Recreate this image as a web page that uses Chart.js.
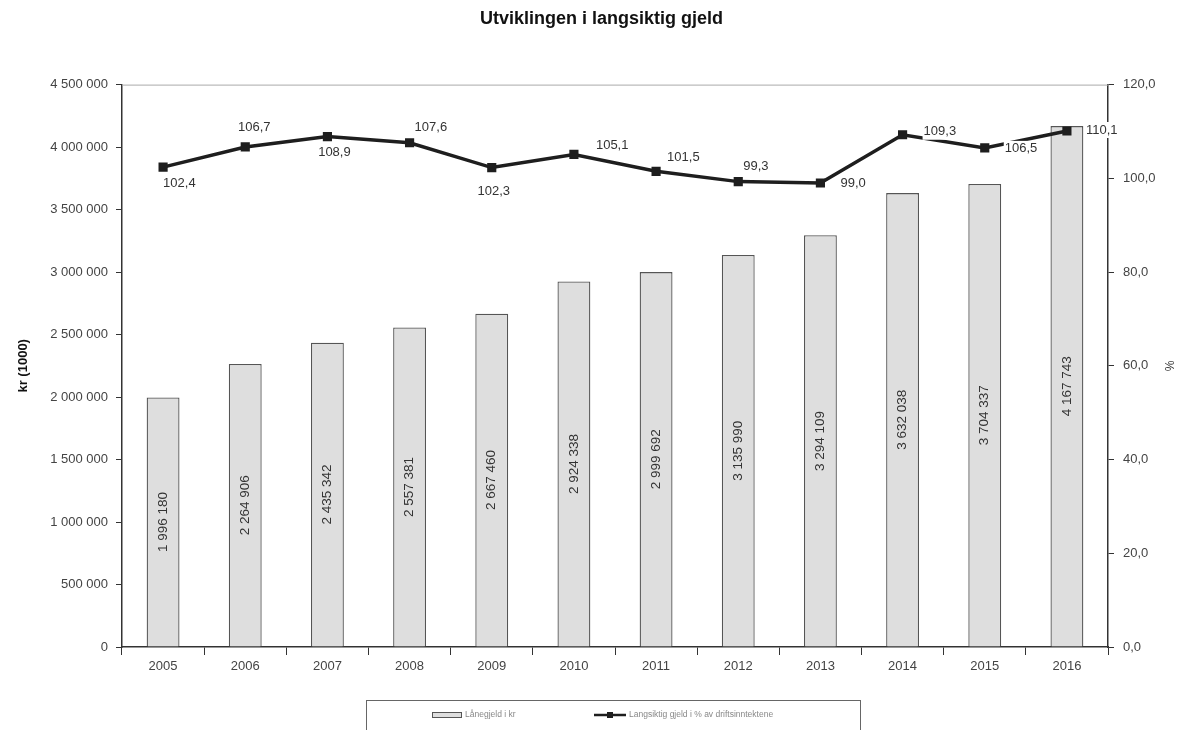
<!DOCTYPE html>
<html>
<head>
<meta charset="utf-8">
<script src="https://cdn.jsdelivr.net/npm/chart.js@4.4.1/dist/chart.umd.min.js"></script>
<style>
  html, body { margin: 0; padding: 0; background: #fff; }
  #wrap { width: 1187px; height: 730px; position: relative; }
</style>
</head>
<body>
<div id="wrap"><canvas id="chart"></canvas></div>
<script>
// data
const years = ['2005','2006','2007','2008','2009','2010','2011','2012','2013','2014','2015','2016'];
const loanDebt = [1996180, 2264906, 2435342, 2557381, 2667460, 2924338, 2999692, 3135990, 3294109, 3632038, 3704337, 4167743];
const debtPct = [102.4, 106.7, 108.9, 107.6, 102.3, 105.1, 101.5, 99.3, 99.0, 109.3, 106.5, 110.1];
const barLabel = 'Lånegjeld i kr';
const lineLabel = 'Langsiktig gjeld i % av driftsinntektene';

// where each line label sits relative to its point (dx, dy, align)
const pctLabelPos = [
  [0, 16, 'left'], [9, -20, 'center'], [7, 16, 'center'], [5, -15, 'left'],
  [2, 24, 'center'], [22, -9, 'left'], [11, -14, 'left'], [5, -15, 'left'],
  [20, 0, 'left'], [21, -3, 'left'], [20, 1, 'left'], [19, -1, 'left']
];

const FONT = "'Liberation Sans', Arial, sans-serif";
const LEFT_PAD = 16;

function spaced(n){
  return String(Math.round(n)).replace(/\B(?=(\d{3})+(?!\d))/g, ' ');
}

const labelsPlugin = {
  id: 'valueLabels',
  afterDatasetsDraw(chart){
    const ctx = chart.ctx;
    ctx.save();
    // bar values, turned on their side in the middle of the bar
    const barMeta = chart.getDatasetMeta(0);
    ctx.font = '13.5px ' + FONT;
    ctx.fillStyle = '#333';
    ctx.textAlign = 'center';
    ctx.textBaseline = 'middle';
    barMeta.data.forEach((bar, i) => {
      const midY = (bar.y + bar.base) / 2;
      ctx.save();
      ctx.translate(bar.x, midY);
      ctx.rotate(-Math.PI/2);
      ctx.fillText(spaced(loanDebt[i]), 0, 0);
      ctx.restore();
    });
    // percentages along the line
    ctx.font = '13px ' + FONT;
    const lineMeta = chart.getDatasetMeta(1);
    lineMeta.data.forEach((pt, i) => {
      const p = pctLabelPos[i];
      const txt = debtPct[i].toFixed(1).replace('.', ',');
      ctx.textAlign = p[2];
      const w = ctx.measureText(txt).width;
      let x0 = p[2] === 'center' ? pt.x + p[0] - w/2 : pt.x + p[0];
      if (i >= 8) {
        ctx.fillStyle = '#fff';
        ctx.fillRect(x0 - 1, pt.y + p[1] - 8, w + 2, 16);
      }
      ctx.fillStyle = '#333';
      ctx.fillText(txt, pt.x + p[0], pt.y + p[1]);
    });
    ctx.restore();
  },
  afterDraw(chart){
    const ctx = chart.ctx;
    const a = chart.chartArea;
    ctx.save();
    // top edge of the plot
    ctx.strokeStyle = '#aaa';
    ctx.lineWidth = 1;
    ctx.beginPath();
    ctx.moveTo(a.left, a.top + 0.5);
    ctx.lineTo(a.right, a.top + 0.5);
    ctx.stroke();

    // legend box
    const bx = 366, by = 700, bw = 494;
    ctx.strokeStyle = '#666';
    ctx.lineWidth = 1;
    ctx.strokeRect(bx + 0.5, by + 0.5, bw, 40);
    ctx.font = '8.5px ' + FONT;
    ctx.textBaseline = 'middle';
    ctx.textAlign = 'left';
    const ly = 715;
    const barDs = chart.data.datasets[0];
    ctx.fillStyle = barDs.backgroundColor;
    ctx.fillRect(432, ly - 3, 30, 5);
    ctx.strokeStyle = barDs.borderColor;
    ctx.strokeRect(432.5, ly - 2.5, 29, 5);
    ctx.fillStyle = '#888';
    ctx.fillText(barDs.label, 465, ly);

    const lineDs = chart.data.datasets[1];
    ctx.strokeStyle = lineDs.borderColor;
    ctx.lineWidth = 2.5;
    ctx.beginPath();
    ctx.moveTo(594, ly);
    ctx.lineTo(626, ly);
    ctx.stroke();
    ctx.fillStyle = lineDs.borderColor;
    ctx.fillRect(607, ly - 3, 6, 6);
    ctx.fillStyle = '#888';
    ctx.fillText(lineDs.label, 629, ly);
    ctx.restore();
  }
};

new Chart(document.getElementById('chart'), {
  data: {
    labels: years,
    datasets: [{
      type: 'bar',
      label: barLabel,
      data: loanDebt,
      yAxisID: 'y',
      backgroundColor: '#dedede',
      borderColor: '#555',
      borderWidth: 1.3,
      barPercentage: 0.4,
      categoryPercentage: 1,
      order: 1
    }, {
      type: 'line',
      label: lineLabel,
      data: debtPct,
      yAxisID: 'y1',
      borderColor: '#1e1e1e',
      backgroundColor: '#1e1e1e',
      borderWidth: 3.5,
      pointStyle: 'rect',
      pointRadius: 4,
      pointBackgroundColor: '#1e1e1e',
      tension: 0,
      order: 0
    }]
  },
  options: {
    responsive: true,
    maintainAspectRatio: false,
    animation: false,
    devicePixelRatio: 1,
    layout: { padding: { left: LEFT_PAD, right: 0, top: 0, bottom: 53 } },
    plugins: {
      legend: { display: false },
      tooltip: { enabled: false },
      title: {
        display: true,
        text: 'Utviklingen i langsiktig gjeld',
        color: '#111',
        font: { family: FONT, size: 18, weight: 'bold' },
        padding: { top: 8, bottom: 55 }
      }
    },
    scales: {
      x: {
        offset: true,
        grid: { offset: true, drawOnChartArea: false, drawTicks: true, tickLength: 8, tickColor: '#333' },
        border: { color: '#333', width: 1.5 },
        ticks: { color: '#444', font: { family: FONT, size: 13 }, padding: 4, maxRotation: 0 },
        afterFit(s){ s.height = 30; }
      },
      y: {
        position: 'left',
        min: 0,
        max: 4500000,
        ticks: {
          stepSize: 500000,
          color: '#444',
          font: { family: FONT, size: 13 },
          padding: 8,
          callback: v => spaced(v)
        },
        grid: { drawOnChartArea: false, tickLength: 6, tickColor: '#333' },
        border: { color: '#333', width: 1.5 },
        title: {
          display: true,
          text: 'kr (1000)',
          color: '#111',
          font: { family: FONT, size: 13, weight: 'bold' },
          padding: { top: 0, bottom: 0 }
        },
        afterFit(s){ s.width = 122 - LEFT_PAD; }
      },
      y1: {
        position: 'right',
        min: 0,
        max: 120,
        ticks: {
          stepSize: 20,
          color: '#444',
          font: { family: FONT, size: 13 },
          padding: 9,
          callback: v => v.toFixed(1).replace('.', ',')
        },
        grid: { drawOnChartArea: false, tickLength: 6, tickColor: '#333' },
        border: { color: '#333', width: 1.5 },
        title: {
          display: true,
          text: '%',
          color: '#333',
          font: { family: FONT, size: 12 },
          padding: { top: 11, bottom: 0 }
        },
        afterFit(s){ s.width = 79; }
      }
    }
  },
  plugins: [labelsPlugin]
});
</script>
</body>
</html>
